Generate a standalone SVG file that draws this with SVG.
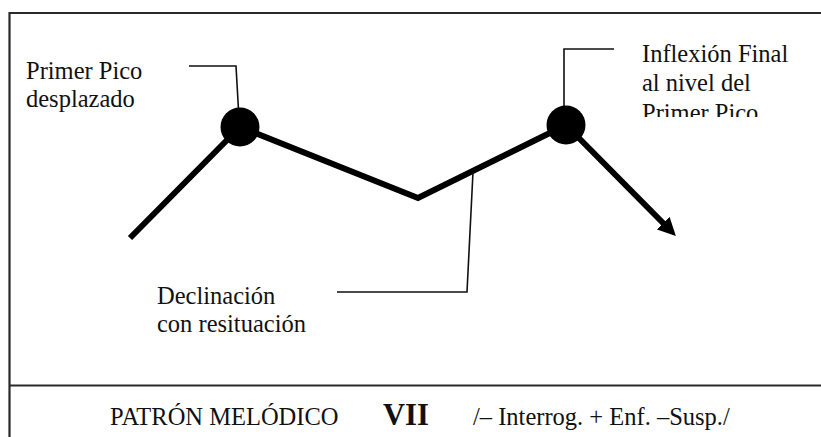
<svg xmlns="http://www.w3.org/2000/svg" width="821" height="437" viewBox="0 0 821 437">
<defs>
<style>
.frame{stroke:#2a2a2a;stroke-width:2.2;fill:none}
.contour{stroke:#000;stroke-width:6;fill:none;stroke-linejoin:miter}
.leader{stroke:#111;stroke-width:1.6;fill:none}
.peak{fill:#000}
.t{font-family:'Liberation Serif','Times New Roman','DejaVu Serif',serif;fill:#111;font-size:24.5px}
.big{font-weight:bold;font-size:30.5px}
</style>
<clipPath id="clipInfl"><rect x="600" y="20" width="221" height="97"/></clipPath>
<marker id="arrow" viewBox="0 0 10 10" refX="3" refY="5" markerWidth="3" markerHeight="3" orient="auto" markerUnits="strokeWidth">
<path d="M0,0 L10,5 L0,10 Z" fill="#000"/>
</marker>
</defs>
<rect width="821" height="437" fill="#fff"/>
<g id="frame">
<path class="frame" d="M9.5,437 V13 H821"/>
<path class="frame" d="M9.5,385.5 H821"/>
</g>
<g id="connectors">
<path class="contour" d="M130,238 L240,127 L418,198 L566,125"/>
<path class="contour" d="M566,125 L667,227" marker-end="url(#arrow)"/>
<path class="leader" d="M189,66 H236 L238.5,110"/>
<path class="leader" d="M614,49 H564 V107"/>
<path class="leader" d="M337,292 H467 L473,172"/>
</g>
<g id="peak1"><circle class="peak" cx="240" cy="127" r="19.5"/></g>
<g id="peak2"><circle class="peak" cx="566" cy="125" r="19.5"/></g>
<g id="label-primer" class="t">
<text x="26" y="79">Primer Pico</text>
<text x="26" y="107">desplazado</text>
</g>
<g id="label-inflexion" class="t" clip-path="url(#clipInfl)">
<text x="642" y="62">Inflexión Final</text>
<text x="642" y="91">al nivel del</text>
<text x="642" y="121">Primer Pico</text>
</g>
<g id="label-declinacion" class="t">
<text x="157" y="304">Declinación</text>
<text x="157" y="332">con resituación</text>
</g>
<g id="caption" class="t">
<text x="110" y="425">PATRÓN MELÓDICO</text>
<text class="big" x="383" y="425">VII</text>
<text x="473" y="425">/– Interrog. + Enf. –Susp./</text>
</g>
</svg>
